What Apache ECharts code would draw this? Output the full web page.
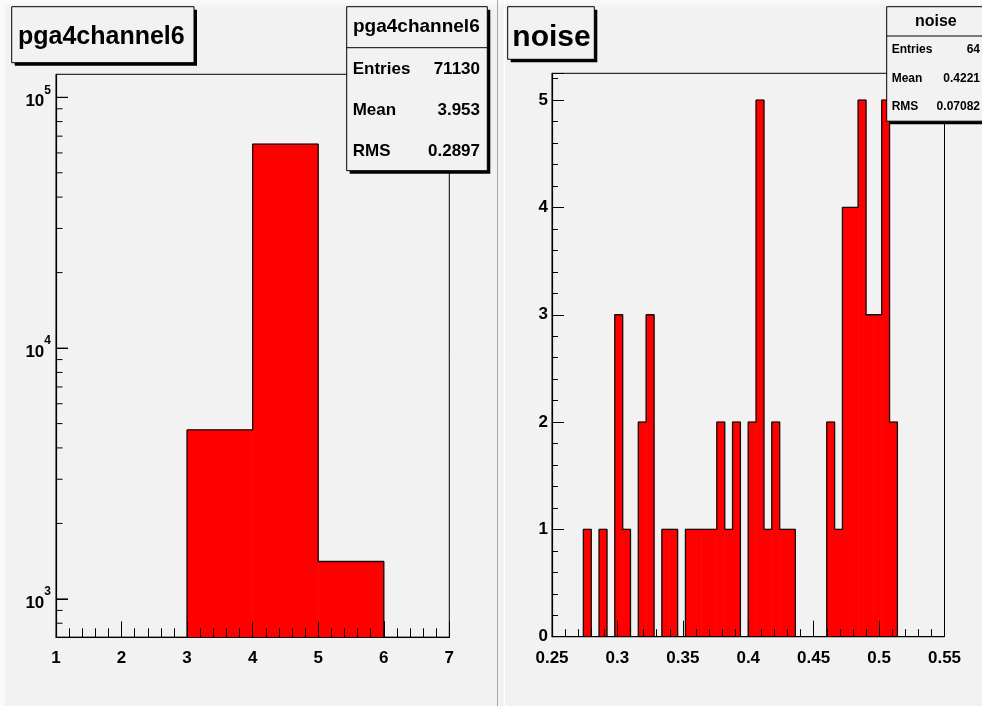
<!DOCTYPE html>
<html><head><meta charset="utf-8">
<script src="https://cdn.jsdelivr.net/npm/echarts@6/dist/echarts.min.js"></script>
<style>html,body{margin:0;padding:0;background:#f2f2f2}#c{width:982px;height:706px}</style>
</head><body><div id="c"></div>
<script>
// ---- data: left histogram (pga4channel6), log y ----
const pgaBinEdges = [1, 2, 3, 4, 5, 6, 7];
const pgaCounts = [0, 0, 4720, 65000, 1410, 0];
const pgaXTicks = [1, 2, 3, 4, 5, 6, 7];
const pgaYMajorTicks = [1000, 10000, 100000];
const pgaYMinorTicks = [800, 900, 2000, 3000, 4000, 5000, 6000, 7000, 8000, 9000,
  20000, 30000, 40000, 50000, 60000, 70000, 80000, 90000];
const pgaStatLabels = ['Entries', 'Mean', 'RMS'];
const pgaStatValues = ['71130', '3.953', '0.2897'];

// ---- data: right histogram (noise), 50 bins of 0.006 from 0.25 ----
const noiseLow = 0.25;
const noiseBinWidth = 0.006;
const noiseCounts = [0,0,0,0,1,0,1,0,3,1, 0,2,3,0,1,1,0,1,1,1, 1,2,1,2,0,2,5,1,2,1, 1,0,0,0,0,2,1,4,4,5, 3,3,5,2,0,0,0,0,0,0];
const noiseXTicks = ['0.25', '0.3', '0.35', '0.4', '0.45', '0.5', '0.55'];
const noiseStatLabels = ['Entries', 'Mean', 'RMS'];
const noiseStatValues = ['64', '0.4221', '0.07082'];

const FONT = '"Liberation Sans", Arial, Helvetica, sans-serif';
const noiseEdges = noiseCounts.map((c, i) => +(noiseLow + i * noiseBinWidth).toFixed(4))
  .concat([+(noiseLow + noiseCounts.length * noiseBinWidth).toFixed(4)]);

const PGA_YMIN = 703, PGA_YMAX = 123500;
const NOISE_YMAX = 5.25;

function rects(edges, counts) {
  return counts.map((c, i) => [edges[i], edges[i + 1], c]).filter(d => d[2] > 0);
}
function outline(edges, counts, floor) {
  const pts = [[edges[0], floor]];
  counts.forEach((c, i) => {
    const v = Math.max(c, floor);
    pts.push([edges[i], v], [edges[i + 1], v]);
  });
  pts.push([edges[edges.length - 1], floor]);
  return pts;
}
function fillSeries(xi, yi, edges, counts, base) {
  return {
    type: 'custom', xAxisIndex: xi, yAxisIndex: yi, z: 2, silent: true,
    data: rects(edges, counts),
    encode: { x: [0, 1], y: 2 },
    renderItem: (params, api) => {
      const p0 = api.coord([api.value(0), api.value(2)]);
      const p1 = api.coord([api.value(1), base]);
      return { type: 'rect', shape: { x: p0[0], y: p0[1], width: p1[0] - p0[0], height: p1[1] - p0[1] },
        style: { fill: '#ff0000', stroke: '#ff0000', lineWidth: 0.8 } };
    }
  };
}
function outlineSeries(xi, yi, edges, counts, floor) {
  return {
    type: 'line', xAxisIndex: xi, yAxisIndex: yi, z: 3, silent: true, showSymbol: false, symbol: 'none',
    data: outline(edges, counts, floor), animation: false,
    lineStyle: { color: '#111', width: 1.3 }
  };
}
function logTickSeries(values, len) {
  return {
    type: 'custom', xAxisIndex: 0, yAxisIndex: 0, z: 11, silent: true,
    data: values.map(v => [pgaXTicks[0], v]),
    renderItem: (params, api) => {
      const p = api.coord([api.value(0), api.value(1)]);
      return { type: 'line', shape: { x1: p[0], y1: p[1], x2: p[0] + len, y2: p[1] }, style: { stroke: '#000', lineWidth: 1 } };
    }
  };
}
const lbl = { color: '#000', fontSize: 17, fontWeight: 'bold', fontFamily: FONT };
function xAxisCfg(gi, min, max, interval, majorLen, minorLen) {
  return {
    gridIndex: gi, type: 'value', min, max, interval, z: 10,
    axisLine: { show: true, onZero: false, lineStyle: { color: '#000', width: 1.2 } },
    axisTick: { show: true, inside: true, length: majorLen, lineStyle: { color: '#000', width: 1 } },
    minorTick: { show: true, splitNumber: 5, length: minorLen, lineStyle: { color: '#000', width: 1 } },
    splitLine: { show: false }, minorSplitLine: { show: false },
    axisLabel: Object.assign({ margin: 13 }, lbl)
  };
}

function statBox(x, y, w, h, headH, title, titleSize, labels, values, rowYs, rowSize, lx, rx) {
  const els = [
    { type: 'rect', z: 100, shape: { x: x + 3, y: y + 3, width: w, height: h }, style: { fill: '#000' } },
    { type: 'rect', z: 101, shape: { x, y, width: w, height: h }, style: { fill: '#f2f2f2', stroke: '#000', lineWidth: 1 } },
    { type: 'line', z: 102, shape: { x1: x, y1: y + headH, x2: x + w, y2: y + headH }, style: { stroke: '#000', lineWidth: 1 } },
    { type: 'text', z: 103, x: (lx + rx) / 2, y: y + headH / 2, style: { text: title, fill: '#000', font: 'bold ' + titleSize + 'px ' + FONT, align: 'center', verticalAlign: 'middle' } }
  ];
  labels.forEach((l, i) => {
    els.push({ type: 'text', z: 103, x: lx, y: rowYs[i], style: { text: l, fill: '#000', font: 'bold ' + rowSize + 'px ' + FONT, align: 'left', verticalAlign: 'middle' } });
    els.push({ type: 'text', z: 103, x: rx, y: rowYs[i], style: { text: values[i], fill: '#000', font: 'bold ' + rowSize + 'px ' + FONT, align: 'right', verticalAlign: 'middle' } });
  });
  return els;
}
function titleBox(x, y, w, h, text, size, tx, ty) {
  return [
    { type: 'rect', z: 100, shape: { x: x + 3, y: y + 3, width: w, height: h }, style: { fill: '#000' } },
    { type: 'rect', z: 101, shape: { x, y, width: w, height: h }, style: { fill: '#f2f2f2', stroke: '#000', lineWidth: 1 } },
    { type: 'text', z: 103, x: tx, y: ty, style: { text, fill: '#000', font: 'bold ' + size + 'px ' + FONT, align: 'left', verticalAlign: 'middle' } }
  ];
}

const chart = echarts.init(document.getElementById('c'), null, { renderer: 'canvas' });
chart.setOption({
  animation: false,
  backgroundColor: '#f2f2f2',
  grid: [
    { left: 56, top: 74.3, width: 393.3, height: 563, show: true, borderColor: '#000', borderWidth: 1, backgroundColor: 'transparent' },
    { left: 552, top: 73.3, width: 392.5, height: 563.4, show: true, borderColor: '#000', borderWidth: 1, backgroundColor: 'transparent' }
  ],
  xAxis: [
    xAxisCfg(0, pgaXTicks[0], pgaXTicks[pgaXTicks.length - 1], 1, 16, 9),
    xAxisCfg(1, +noiseXTicks[0], +noiseXTicks[noiseXTicks.length - 1], 0.05, 16, 7.5)
  ],
  yAxis: [
    {
      gridIndex: 0, type: 'log', logBase: 10, min: PGA_YMIN, max: PGA_YMAX, z: 10,
      axisLine: { show: true, lineStyle: { color: '#000', width: 1.2 } },
      axisTick: { show: true, inside: true, length: 12, lineStyle: { color: '#000', width: 1 } },
      minorTick: { show: false }, splitLine: { show: false },
      axisLabel: {
        margin: 5, showMinLabel: false, showMaxLabel: false,
        formatter: v => { const e = Math.log10(v), r = Math.round(e); return Math.abs(e - r) > 1e-6 ? '' : '{b|10}{s|' + r + '}'; },
        rich: {
          b: { color: '#000', fontSize: 17, fontWeight: 'bold', fontFamily: FONT, lineHeight: 26, verticalAlign: 'bottom' },
          s: { color: '#000', fontSize: 12, fontWeight: 'bold', fontFamily: FONT, lineHeight: 12, verticalAlign: 'top' }
        }
      }
    },
    {
      gridIndex: 1, type: 'value', min: 0, max: NOISE_YMAX, interval: 1, z: 10,
      axisLine: { show: true, onZero: false, lineStyle: { color: '#000', width: 1.2 } },
      axisTick: { show: true, inside: true, length: 12, lineStyle: { color: '#000', width: 1 } },
      minorTick: { show: true, splitNumber: 5, length: 6, lineStyle: { color: '#000', width: 1 } },
      splitLine: { show: false }, minorSplitLine: { show: false },
      axisLabel: Object.assign({ margin: 4, formatter: v => Number.isInteger(v) ? String(v) : '' }, lbl)
    }
  ],
  series: [
    fillSeries(0, 0, pgaBinEdges, pgaCounts, PGA_YMIN),
    outlineSeries(0, 0, pgaBinEdges, pgaCounts, PGA_YMIN),
    logTickSeries(pgaYMinorTicks, 6.5),
    logTickSeries(pgaYMajorTicks, 12),
    fillSeries(1, 1, noiseEdges, noiseCounts, 0),
    outlineSeries(1, 1, noiseEdges, noiseCounts, 0)
  ],
  graphic: { elements: [
    { type: 'rect', z: 0, shape: { x: 0, y: 0, width: 982, height: 4.5 }, style: { fill: '#f9f9f9' } },
    { type: 'rect', z: 0, shape: { x: 0, y: 0, width: 4.5, height: 706 }, style: { fill: '#f9f9f9' } },
    { type: 'line', z: 0, shape: { x1: 497.5, y1: 0, x2: 497.5, y2: 706 }, style: { stroke: '#a8a8a8', lineWidth: 1 } },
    { type: 'line', z: 0, shape: { x1: 504.5, y1: 0, x2: 504.5, y2: 706 }, style: { stroke: '#ffffff', lineWidth: 1 } },
    ...titleBox(11.7, 6.7, 182.3, 56, 'pga4channel6', 25, 18, 37),
    ...titleBox(507.7, 6.7, 86.6, 52.6, 'noise', 30, 512.3, 38),
    ...statBox(346.7, 6.7, 140.6, 164, 41, 'pga4channel6', 19, pgaStatLabels, pgaStatValues, [69.2, 110.2, 151.7], 17, 352.7, 480),
    ...statBox(886.7, 6.7, 110, 114.5, 29.3, 'noise', 16, noiseStatLabels, noiseStatValues, [50, 78.3, 106.2], 12, 891.7, 980)
  ] }
});
</script></body></html>
